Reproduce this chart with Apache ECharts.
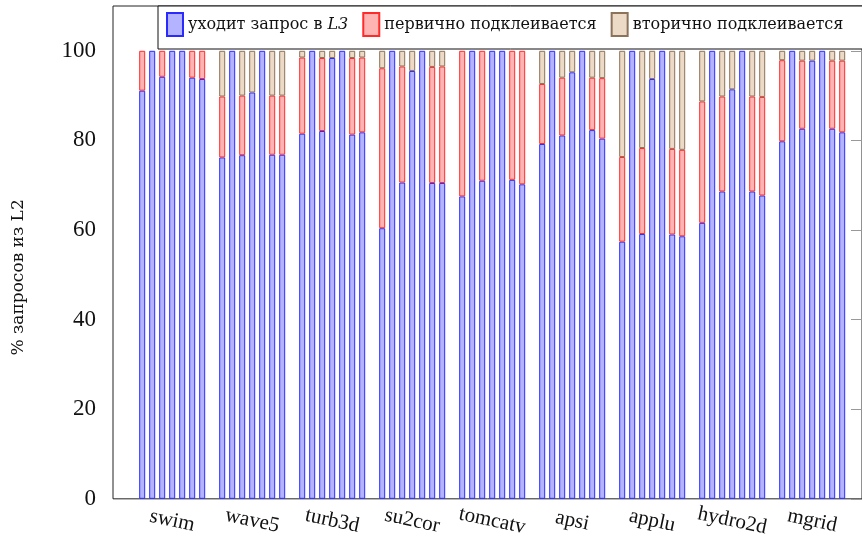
<!DOCTYPE html>
<html>
<head>
<meta charset="utf-8">
<script src="https://cdn.jsdelivr.net/npm/echarts@6/dist/echarts.min.js"></script>
<style>
  html, body { margin: 0; padding: 0; background: #fff; }
  #chart { width: 862px; height: 539px; }
</style>
</head>
<body>
<div id="chart"></div>
<script>
// Benchmarks on the x axis, seven runs each
const benchmarks = ['swim', 'wave5', 'turb3d', 'su2cor', 'tomcatv', 'apsi', 'applu', 'hydro2d', 'mgrid'];
const yTicks = [0, 20, 40, 60, 80, 100];

// Share of L2 requests (%) that go on to L3
const toL3 = [
  [91.1, 100, 94.2, 100, 100, 94.0, 93.7],
  [76.2, 100, 76.7, 90.7, 100, 76.8, 76.8],
  [81.5, 100, 82.1, 98.4, 100, 81.3, 81.8],
  [60.4, 100, 70.6, 95.5, 100, 70.5, 70.5],
  [67.5, 100, 71.0, 100, 100, 71.2, 70.2],
  [79.2, 100, 81.1, 95.2, 100, 82.3, 80.4],
  [57.4, 100, 59.1, 93.7, 100, 59.0, 58.6],
  [61.6, 100, 68.6, 91.4, 100, 68.6, 67.7],
  [79.8, 100, 82.6, 97.8, 100, 82.6, 81.8]
];
// Share merged on the first pass
const primaryMerge = [
  [8.9, 0, 5.8, 0, 0, 6.0, 6.3],
  [13.6, 0, 13.3, 0, 0, 13.2, 13.2],
  [17.0, 0, 16.3, 0, 0, 17.1, 16.7],
  [35.7, 0, 25.9, 0, 0, 25.9, 26.0],
  [32.5, 0, 29.0, 0, 0, 28.8, 29.8],
  [13.4, 0, 12.9, 0, 0, 11.7, 13.5],
  [18.9, 0, 19.2, 0, 0, 19.1, 19.3],
  [27.1, 0, 21.2, 0, 0, 21.2, 22.0],
  [18.1, 0, 15.2, 0, 0, 15.2, 16.0]
];
// Share merged on the second pass
const secondaryMerge = [
  [0, 0, 0, 0, 0, 0, 0],
  [10.2, 0, 10.0, 9.3, 0, 10.0, 10.0],
  [1.5, 0, 1.6, 1.6, 0, 1.6, 1.5],
  [3.9, 0, 3.5, 4.5, 0, 3.6, 3.5],
  [0, 0, 0, 0, 0, 0, 0],
  [7.4, 0, 6.0, 4.8, 0, 6.0, 6.1],
  [23.7, 0, 21.7, 6.3, 0, 21.9, 22.1],
  [11.3, 0, 10.2, 8.6, 0, 10.2, 10.3],
  [2.1, 0, 2.2, 2.2, 0, 2.2, 2.2]
];

const STRIDE = 8;          // slots per benchmark: seven bars and one gap
const MID = 3;             // slot under the benchmark label

// One [value, slot] pair per bar (value first so the stack sums along y);
// empty segments are skipped
function toPoints(rows) {
  const out = [];
  rows.forEach((row, g) => row.forEach((v, j) => out.push([v > 0 ? v : '-', g * STRIDE + j])));
  return out;
}

const serif = '"Liberation Serif", "DejaVu Serif", serif';
const legendFont = '"DejaVu Serif", "Liberation Serif", serif';

function seg(name, data, fill, stroke) {
  return {
    name: name,
    type: 'bar',
    stack: 'share',
    barWidth: 6,
    data: data,
    encode: { x: 1, y: 0 },
    itemStyle: { color: fill, borderColor: stroke, borderWidth: 1 },
    emphasis: { disabled: true }
  };
}

const chart = echarts.init(document.getElementById('chart'), null, { renderer: 'canvas' });
chart.setOption({
  animation: false,
  backgroundColor: '#fff',
  grid: {
    left: 113, right: -2, top: 6, bottom: 40,
    show: true, borderColor: '#222', borderWidth: 1, backgroundColor: 'transparent'
  },
  legend: {
    left: 158, top: 6,
    width: 760,
    orient: 'horizontal',
    padding: [6, 30, 12, 8],
    itemGap: 14,
    itemWidth: 16,
    itemHeight: 23,
    icon: 'rect',
    backgroundColor: '#fff',
    borderColor: '#111',
    borderWidth: 1,
    borderRadius: 0,
    selectedMode: false,
    textStyle: {
      fontFamily: legendFont, fontSize: 16, color: '#111',
      rich: { i: { fontFamily: legendFont, fontStyle: 'italic', fontSize: 16, color: '#111' } }
    },
    formatter: function (name) {
      return name.replace('L3', '{i|L3}');
    }
  },
  xAxis: {
    type: 'value',
    min: -2.92, max: 71.98,
    splitLine: { show: false },
    axisLine: { show: false },
    axisTick: { show: false },
    axisLabel: {
      customValues: benchmarks.map((_, g) => g * STRIDE + MID),
      formatter: function (v) { return benchmarks[Math.round((v - MID) / STRIDE)]; },
      rotate: -12,
      align: 'center',
      verticalAlign: 'middle',
      margin: 22,
      fontFamily: serif, fontSize: 21, color: '#111'
    }
  },
  yAxis: [
    {
      type: 'value',
      min: 0, max: 110,
      name: '% запросов из L2',
      nameLocation: 'middle',
      nameGap: 86,
      nameTextStyle: { fontFamily: legendFont, fontSize: 17, color: '#111', padding: [0, 50, 0, 0] },
      splitLine: { show: false },
      axisLine: { show: false },
      axisTick: { show: false },
      axisLabel: {
        customValues: yTicks,
        margin: 17,
        fontFamily: serif, fontSize: 23, color: '#111'
      }
    },
    {
      type: 'value',
      position: 'right',
      min: 0, max: 110,
      splitLine: { show: false },
      axisLine: { show: false },
      axisLabel: { show: false },
      axisTick: { show: true, inside: true, length: 11, customValues: yTicks, lineStyle: { color: '#999', width: 1 } }
    }
  ],
  series: [
    seg('уходит запрос в L3', toPoints(toL3), '#b3b3ff', '#2a2aff'),
    seg('первично подклеивается', toPoints(primaryMerge), '#ffb3b3', '#ff2a2a'),
    seg('вторично подклеивается', toPoints(secondaryMerge), '#ecd9c6', '#8c7258')
  ]
});
</script>
</body>
</html>
